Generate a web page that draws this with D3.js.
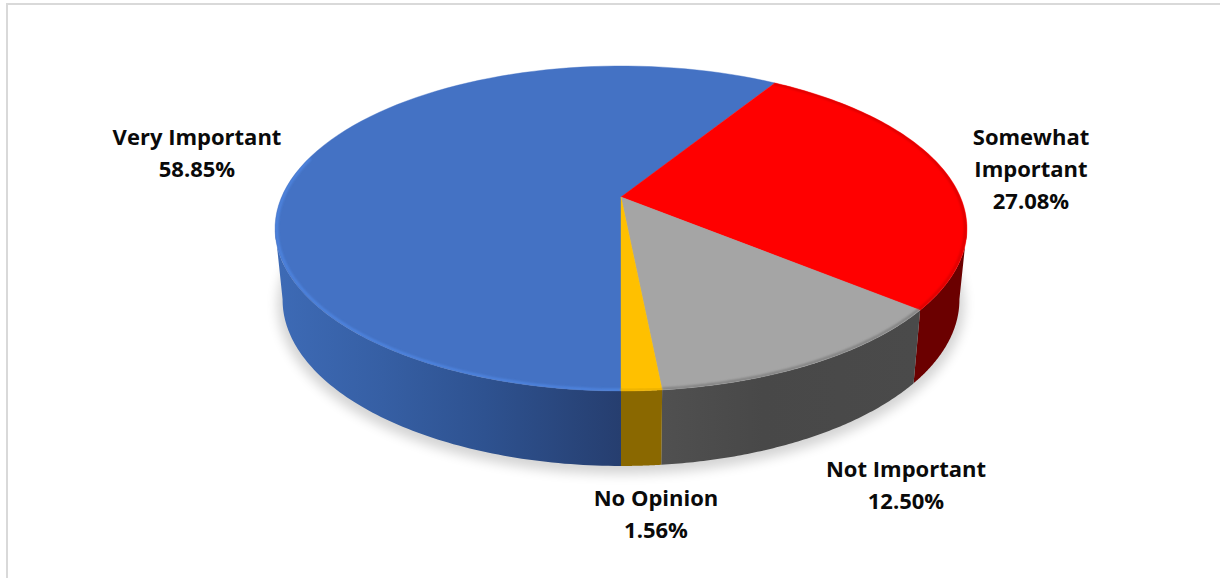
<!DOCTYPE html>
<html><head><meta charset="utf-8">
<script src="https://cdn.jsdelivr.net/npm/d3@7/dist/d3.min.js"></script>
<style>html,body{margin:0;padding:0;background:#fff;overflow:hidden}svg{display:block}
text{font-family:"Open Sans","Noto Sans",sans-serif;font-weight:700;fill:#0a0a0a;font-size:22px;text-anchor:middle}</style>
</head><body><svg id="c" width="1220" height="578"></svg>
<script>
const categories = ["Very Important", "Somewhat Important", "Not Important", "No Opinion"];
const values = [58.85, 27.08, 12.50, 1.56];
const labelLines = [["Very Important"], ["Somewhat", "Important"], ["Not Important"], ["No Opinion"]];

const topColors = ["#4472c4", "#ff0000", "#a5a5a5", "#ffc000"];
const rimColors = ["#4f86e2", "#d80000", "#7d7d7d", "#e8ae00"];
const sideFills = ["url(#sideBlue)", "#6b0000", "url(#sideGrey)", "#8a6800"];
const labelAnchors = [[197, 145], [1031, 145], [906, 477], [656, 506]];
const lineStep = 32;

const W = 1220, H = 578;
const svg = d3.select("#c");
const defs = svg.append("defs");

function gradient(id, x1, x2, stops) {
  const g = defs.append("linearGradient").attr("id", id).attr("gradientUnits", "userSpaceOnUse")
    .attr("x1", x1).attr("x2", x2).attr("y1", 0).attr("y2", 0);
  stops.forEach(s => g.append("stop").attr("offset", s[0]).attr("stop-color", s[1]));
}
gradient("sideBlue", 280, 621, [[0, "#3d6ab5"], [0.3, "#365fa4"], [0.6, "#2e5290"], [1, "#263e6f"]]);
gradient("sideGrey", 662, 915, [[0, "#505050"], [0.4, "#484848"], [1, "#4a4a4a"]]);
defs.append("filter").attr("id", "shadow").attr("x", "-10%").attr("y", "-10%").attr("width", "120%").attr("height", "120%")
  .append("feGaussianBlur").attr("stdDeviation", 6);
defs.append("filter").attr("id", "soft").attr("x", "-5%").attr("y", "-5%").attr("width", "110%").attr("height", "110%")
  .append("feGaussianBlur").attr("stdDeviation", 0.9);

// perspective projection of a tilted disc, angle measured clockwise from the back
const K = 0.1938;
function projector(cx, cy, a, b) {
  return t => {
    const u = Math.sin(t), v = -Math.cos(t), d = 1 - K * v;
    return [cx + a * u / d, cy + b * v / d];
  };
}
const topDisc = projector(621, 197, 339.4, 156.4);
const baseDisc = projector(621, 267.5, 332, 160);
const shadowDisc = projector(621, 272, 337, 163);

const line = d3.line();
const arcAngles = (a0, a1) => d3.range(0, 1.0001, 1 / 90).map(f => a0 + (a1 - a0) * f);

const slices = d3.pie().sort(null).startAngle(Math.PI).endAngle(3 * Math.PI)(values);
const rad = d => d * Math.PI / 180;
const FRONT0 = rad(101), FRONT1 = rad(259);

// ground shadow
svg.append("path")
  .attr("d", line(arcAngles(0, 2 * Math.PI).map(shadowDisc)) + "Z")
  .attr("fill", "#000").attr("opacity", 0.17).attr("filter", "url(#shadow)");

// side walls
slices.forEach((s, i) => {
  const ranges = [[s.startAngle, s.endAngle], [s.startAngle - 2 * Math.PI, s.endAngle - 2 * Math.PI]];
  ranges.forEach(([a, b]) => {
    const a0 = Math.max(a, FRONT0), a1 = Math.min(b, FRONT1);
    if (a1 <= a0) return;
    const ts = arcAngles(a0, a1);
    svg.append("path")
      .attr("d", line(ts.map(topDisc).concat(ts.slice().reverse().map(baseDisc))) + "Z")
      .attr("fill", sideFills[i]);
  });
});

// top faces
slices.forEach((s, i) => {
  const pts = [[621, 197]].concat(arcAngles(s.startAngle, s.endAngle).map(topDisc));
  svg.append("path").attr("d", line(pts) + "Z")
    .attr("fill", topColors[i]).attr("stroke", topColors[i]).attr("stroke-width", 0.4);
});

// bevel along the rim, only on the near side
const innerDisc = projector(621, 197, 339.4 * 0.995, 156.4 * 0.995);
const clip = defs.append("clipPath").attr("id", "topClip");
clip.append("path").attr("d", line(arcAngles(0, 2 * Math.PI).map(topDisc)) + "Z");
const rimGroup = svg.append("g").attr("clip-path", "url(#topClip)");
slices.forEach((s, i) => {
  const limits = i === 0 ? [s.startAngle, rad(285)] : [Math.max(s.startAngle, rad(100)), s.endAngle];
  if (limits[1] <= limits[0]) return;
  rimGroup.append("path")
    .attr("d", line(arcAngles(limits[0], limits[1]).map(innerDisc)))
    .attr("fill", "none").attr("stroke", rimColors[i]).attr("stroke-width", 2.4)
    .attr("filter", "url(#soft)");
});

// labels
const fmt = d3.format(".2f");
slices.forEach((s, i) => {
  const [x, y] = labelAnchors[i];
  const lines = labelLines[i].concat(fmt(values[i]) + "%");
  const t = svg.append("text").attr("aria-label", categories[i]);
  lines.forEach((l, j) => t.append("tspan").attr("x", x).attr("y", y + j * lineStep).text(l));
});

// chart frame (cropped by the photo on the right and bottom)
svg.append("rect").attr("x", 7).attr("y", 4).attr("width", W + 20).attr("height", H + 20)
  .attr("fill", "none").attr("stroke", "#d9d9d9").attr("stroke-width", 2);
</script></body></html>
